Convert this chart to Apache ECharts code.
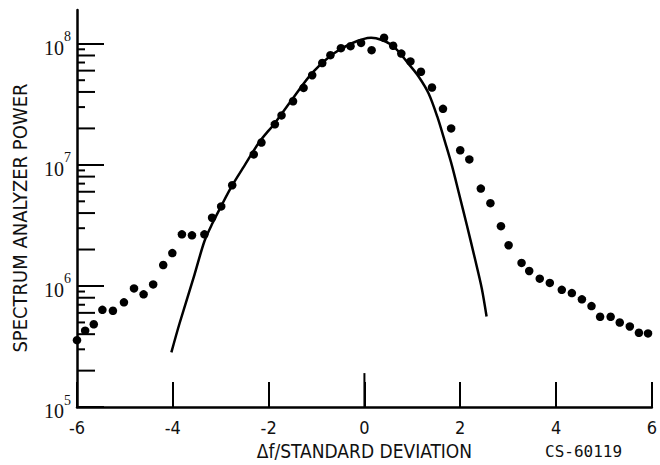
<!DOCTYPE html>
<html>
<head>
<meta charset="utf-8">
<script src="https://cdn.jsdelivr.net/npm/echarts@6/dist/echarts.min.js"></script>
<style>
  html, body { margin: 0; padding: 0; background: #fff; }
  #chart { width: 660px; height: 465px; }
</style>
</head>
<body>
<div id="chart"></div>
<script>
// Measured spectrum (dots) and fitted Gaussian-like curve (solid line)
const dotX = [-6.0, -5.83, -5.65, -5.47, -5.25, -5.02, -4.81, -4.61, -4.41, -4.2,
  -4.01, -3.81, -3.6, -3.34, -3.18, -2.99, -2.76, -2.31, -2.15, -1.87,
  -1.73, -1.49, -1.27, -1.09, -0.88, -0.71, -0.49, -0.29, -0.07, 0.15,
  0.41, 0.6, 0.77, 0.96, 1.18, 1.41, 1.64, 1.81, 2.0, 2.19,
  2.43, 2.63, 2.85, 3.01, 3.28, 3.44, 3.66, 3.87, 4.12, 4.33,
  4.54, 4.74, 4.92, 5.14, 5.33, 5.54, 5.73, 5.92];
const dotPower = [3.57e5, 4.27e5, 4.83e5, 6.35e5, 6.24e5, 7.33e5, 9.55e5, 8.53e5, 1.03e6, 1.49e6,
  1.87e6, 2.67e6, 2.62e6, 2.67e6, 3.66e6, 4.54e6, 6.79e6, 1.22e7, 1.53e7, 2.16e7,
  2.56e7, 3.35e7, 4.32e7, 5.5e7, 6.93e7, 8.05e7, 9.2e7, 9.55e7, 1.016e8, 8.85e7,
  1.12e8, 9.62e7, 8.3e7, 7.15e7, 5.87e7, 4.35e7, 2.9e7, 2.0e7, 1.32e7, 1.11e7,
  6.37e6, 4.83e6, 3.12e6, 2.17e6, 1.55e6, 1.33e6, 1.15e6, 1.06e6, 9.29e5, 8.74e5,
  7.76e5, 6.82e5, 5.57e5, 5.57e5, 4.99e5, 4.63e5, 4.11e5, 4.06e5];

const fitX = [-4.03, -3.86, -3.55, -3.34, -3.17, -2.99, -2.76, -2.51, -2.19, -1.88,
  -1.53, -1.09, -0.68, -0.26, 0.14, 0.57, 0.93, 1.13, 1.34, 1.52,
  1.69, 1.83, 1.97, 2.14, 2.31, 2.45, 2.55];
const fitPower = [2.83e5, 4.9e5, 1.23e6, 2.34e6, 3.31e6, 4.57e6, 6.76e6, 9.77e6, 1.55e7, 2.19e7,
  3.39e7, 5.75e7, 8.13e7, 1.01e8, 1.12e8, 9.77e7, 6.76e7, 5.37e7, 3.89e7, 2.51e7,
  1.51e7, 9.77e6, 5.89e6, 3.16e6, 1.66e6, 9.55e5, 5.6e5];

// Axis ticks and labels
const xTicks = [-6, -4, -2, 0, 2, 4, 6];
const yDecades = [1e5, 1e6, 1e7, 1e8];
const yMinorSteps = [2, 3, 4, 5, 6, 7, 8, 9];

const sansFont = "'DejaVu Sans Condensed', 'Liberation Sans Narrow', 'DejaVu Sans', sans-serif";
const serifFont = "'Liberation Serif', 'DejaVu Serif', serif";

// minor log ticks (2..9 within each decade) plus the taller centre tick on the x axis
const tickMarks = [];
yDecades.slice(0, 3).forEach(function (d) {
  yMinorSteps.forEach(function (m) { tickMarks.push([-6, d * m, m % 2 === 0 ? 18 : 8, 'y']); });
});
tickMarks.push([0, 1e5, 34, 'x']);

const chart = echarts.init(document.getElementById('chart'), null, { renderer: 'svg' });

chart.setOption({
  animation: false,
  backgroundColor: '#fff',
  grid: { left: 77, right: 6, top: 10, bottom: 56, containLabel: false },
  xAxis: {
    type: 'value',
    min: -6, max: 6, interval: 2,
    name: 'Δf/STANDARD DEVIATION',
    nameLocation: 'middle',
    nameGap: 29,
    nameTextStyle: { fontFamily: sansFont, fontSize: 19, color: '#111' },
    axisLine: { onZero: false, lineStyle: { color: '#000', width: 2.5 } },
    axisTick: { inside: true, length: 25, lineStyle: { color: '#000', width: 2 } },
    axisLabel: {
      margin: 11, fontFamily: sansFont, fontSize: 18, color: '#111',
      customValues: xTicks,
      formatter: function (v) { return String(v); }
    },
    splitLine: { show: false }
  },
  yAxis: {
    type: 'log', logBase: 10,
    min: 1e5, max: 1.9e8,
    name: 'SPECTRUM ANALYZER POWER',
    nameLocation: 'middle',
    nameGap: 47,
    nameTextStyle: { fontFamily: sansFont, fontSize: 20, color: '#111', padding: [0, 19, 0, 0] },
    axisLine: { onZero: false, lineStyle: { color: '#000', width: 2.5 } },
    axisTick: { inside: true, length: 27, lineStyle: { color: '#000', width: 2 }, customValues: yDecades },
    axisLabel: {
      margin: 6,
      customValues: yDecades,
      formatter: function (v) {
        return '{b|10}{s|' + Math.round(Math.log10(v)) + '}';
      },
      rich: {
        b: { fontFamily: serifFont, fontSize: 20, lineHeight: 28, verticalAlign: 'bottom', color: '#111' },
        s: { fontFamily: serifFont, fontSize: 14, lineHeight: 12, verticalAlign: 'top', color: '#111' }
      }
    },
    splitLine: { show: false },
    minorTick: { show: false }
  },
  graphic: [{
    type: 'text', left: 545, top: 443,
    style: { text: 'CS-60119', font: "16px 'DejaVu Sans Mono', monospace", fill: '#111' }
  }],
  series: [
    {
      type: 'line',
      data: fitX.map(function (x, i) { return [x, fitPower[i]]; }),
      showSymbol: false,
      smooth: 0.3,
      lineStyle: { color: '#000', width: 2.5 },
      z: 2
    },
    {
      type: 'scatter',
      data: dotX.map(function (x, i) { return [x, dotPower[i]]; }),
      symbol: 'circle',
      symbolSize: 8.5,
      itemStyle: { color: '#000', opacity: 1 },
      clip: false,
      z: 3
    },
    {
      type: 'custom',
      data: tickMarks,
      clip: false,
      silent: true,
      renderItem: function (params, api) {
        const p = api.coord([api.value(0), api.value(1)]);
        const len = api.value(2);
        const horizontal = tickMarks[params.dataIndex][3] === 'y';
        return {
          type: 'line',
          shape: horizontal
            ? { x1: p[0], y1: p[1], x2: p[0] + len, y2: p[1] }
            : { x1: p[0], y1: p[1], x2: p[0], y2: p[1] - len },
          style: { stroke: '#000', lineWidth: 2 }
        };
      },
      z: 1
    }
  ]
});
</script>
</body>
</html>
